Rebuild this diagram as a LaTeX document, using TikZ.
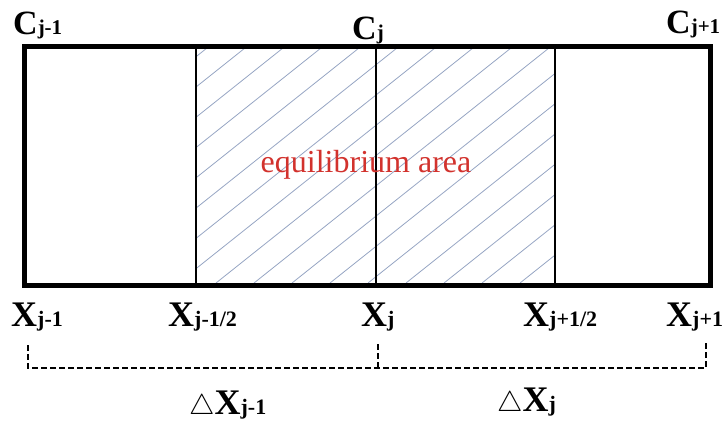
\documentclass[tikz,border=0pt]{standalone}
\usepackage{graphicx}
\usepackage{fontspec}
\setmainfont{Liberation Serif}
\newcommand{\lbl}[2]{{\fontsize{36}{36}\selectfont\bfseries #1}{\fontsize{22}{22}\selectfont\bfseries #2}}
\newcommand{\clbl}[2]{{\fontsize{34}{34}\selectfont\bfseries #1}{\fontsize{21}{21}\selectfont\bfseries #2}}
\newcommand{\deltri}{{\fontsize{33}{33}\selectfont\scalebox{1.15}{$\triangle$}}}
\begin{document}
\begin{tikzpicture}[x=1pt,y=-1pt,
  lab/.style={inner sep=0pt, anchor=base},
  hatchline/.style={draw={rgb,255:red,150;green,165;blue,195}, line width=0.8pt},
  divider/.style={line width=2pt},
  frame/.style={line width=4.5pt},
  bracket/.style={dashed, dash pattern=on 6pt off 3pt, line width=1.8pt}]
\useasboundingbox (0,0) rectangle (722,426);
% hatching
\begin{scope}
  \clip (196,44) rectangle (555,283);
  \foreach \s in {-126,-88,...,560}{
    \draw[hatchline] (\s,283) -- (\s+300,44);
  }
\end{scope}
% frame and dividers
\node[draw, frame, minimum width=686pt, minimum height=239pt, inner sep=0pt, anchor=north west] (box) at (22,44) {};
\draw[divider] (196,44) -- (196,283);
\draw[divider] (376,44) -- (376,283);
\draw[divider] (555,44) -- (555,283);
% text inside
\node[lab, text={rgb,255:red,210;green,50;blue,45}] (eq) at (366,172) {\rmfamily\fontsize{32}{32}\selectfont equilibrium area};
% C labels
\node[lab, anchor=base west] (c1) at (13,34) {\clbl{C}{j-1}};
\node[lab, anchor=base west] (c2) at (352,39) {\clbl{C}{j}};
\node[lab, anchor=base west] (c3) at (666,33) {\clbl{C}{j+1}};
% X labels
\node[lab, anchor=base west] (x1) at (11,326) {\lbl{X}{j-1}};
\node[lab, anchor=base west] (x2) at (168,326) {\lbl{X}{j-1/2}};
\node[lab, anchor=base west] (x3) at (361,326) {\lbl{X}{j}};
\node[lab, anchor=base west] (x4) at (523,326) {\lbl{X}{j+1/2}};
\node[lab, anchor=base west] (x5) at (666,326) {\lbl{X}{j+1}};
% bracket
\coordinate (b1t) at (28,345);
\coordinate (b1) at (28,368);
\coordinate (b2t) at (378,344);
\coordinate (b2) at (378,368);
\coordinate (b3t) at (706,342);
\coordinate (b3) at (706,368);
\draw[bracket] (b1t) -- (b1) -- (b2) -- (b3) -- (b3t);
\draw[bracket] (b2t) -- (b2);
% delta labels
\node[lab, anchor=base west] (d1) at (189,414) {\deltri\lbl{X}{j-1}};
\node[lab, anchor=base west] (d2) at (497,411) {\deltri\lbl{X}{j}};
\end{tikzpicture}
\end{document}
